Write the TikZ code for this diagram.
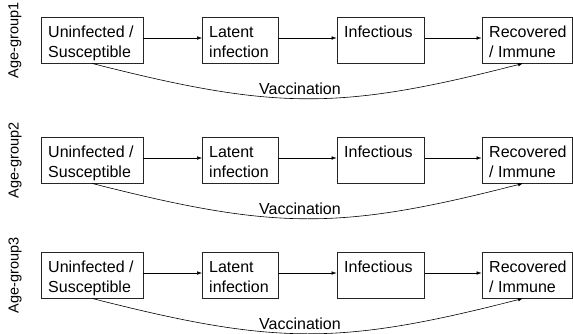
\documentclass[tikz,border=0pt]{standalone}
\usepackage{fontspec}
\setmainfont{Liberation Sans}
\usetikzlibrary{arrows.meta,calc}
\begin{document}
\begin{tikzpicture}[x=1pt,y=-1pt,
  box/.style={draw=black!85, line width=0.8pt, minimum height=46pt, inner sep=0pt},
  txt/.style={anchor=base west, inner sep=0pt, font=\fontsize{16}{20}\selectfont, align=left},
  grp/.style={rotate=90, inner sep=0pt, font=\fontsize{14.5}{17}\selectfont},
  arr/.style={line width=0.6pt, -{Latex[length=5pt,width=3.6pt]}},
  vac/.style={font=\fontsize{16}{20}\selectfont, anchor=base, inner sep=0pt}]
\useasboundingbox (0,0) rectangle (573,333);
\foreach \r/\T in {1/17,2/137,3/252}{
  \node[grp] (g\r) at (15,\T+23.5) {Age-group\r};
  \node[box, minimum width=102pt] (a\r) at (92,\T+23) {};
  \node[box, minimum width=75.5pt] (b\r) at (240.25,\T+23) {};
  \node[box, minimum width=87.5pt] (c\r) at (380.75,\T+23) {};
  \node[box, minimum width=90pt] (d\r) at (527,\T+23) {};
  \node[txt] (ta\r) at (48,\T+20) {\parbox[t]{95pt}{\fontsize{16}{20}\selectfont Uninfected /\\Susceptible}};
  \node[txt] (tb\r) at (209,\T+20) {\parbox[t]{70pt}{\fontsize{16}{20}\selectfont Latent\\infection}};
  \node[txt] (tc\r) at (344,\T+20) {Infectious};
  \node[txt] (td\r) at (489,\T+20) {\parbox[t]{85pt}{\fontsize{16}{20}\selectfont Recovered\\/ Immune}};
  \draw[arr] ([yshift=2pt]a\r.east) -- ([yshift=2pt]b\r.west);
  \draw[arr] ([yshift=2pt]b\r.east) -- ([yshift=2pt]c\r.west);
  \draw[arr] ([yshift=2pt]c\r.east) -- ([yshift=2pt]d\r.west);
  \draw[arr] (a\r.south) .. controls +(184,47) and +(-183,47) .. ([xshift=-4pt]d\r.south);
  \node[vac] (v\r) at (300,\T+77) {Vaccination};
}
\end{tikzpicture}
\end{document}
